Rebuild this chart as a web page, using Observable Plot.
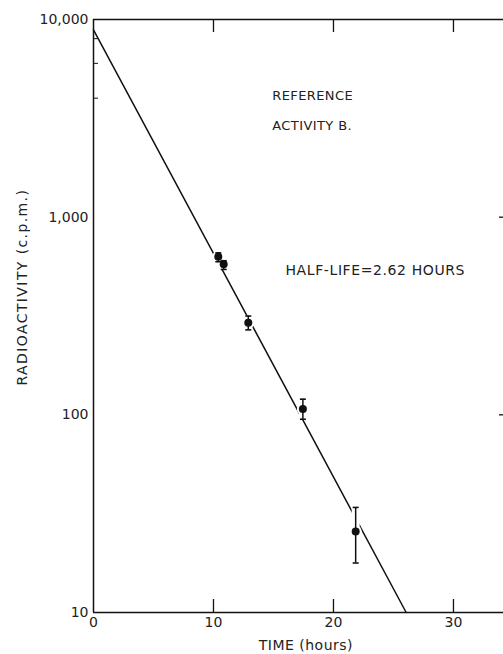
<!DOCTYPE html>
<html><head><meta charset="utf-8">
<script src="https://cdn.jsdelivr.net/npm/d3@7"></script>
<script src="https://cdn.jsdelivr.net/npm/@observablehq/plot@0.6"></script>
<style>body{margin:0;background:#fff}</style>
</head><body><div id="chart"></div>
<script>
// measured points (time in hours, activity in c.p.m.)
const timeHours = [10.4, 10.85, 12.9, 17.45, 21.85];
const activity = [630, 577, 292, 107, 25.7];
const errLow = [595, 544, 269, 95, 17.8];
const errHigh = [660, 602, 316, 120, 34];
// fitted decay line endpoints
const fitTime = [0, 26.06];
const fitActivity = [8870, 10];
// ticks
const xTicks = [0, 10, 20, 30];
const xInnerTicks = [10, 20, 30];
const yTicks = [10, 100, 1000, 10000];
const yTickLabels = ["10", "100", "1,000", "10,000"];
const yMinorTicks = [4000, 6000, 8000];
const yRightTicks = [100, 1000];

const X_MAX = 34.17, Y_MIN = 10, Y_MAX = 10000;
const pxPerX = 12, pxPerDecade = 198;
const tickUp = Math.pow(10, 13 / pxPerDecade);   // 13px inward on log scale
const tickDown = Math.pow(10, -13 / pxPerDecade);

const pts = timeHours.map((t, i) => ({t, v: activity[i], lo: errLow[i], hi: errHigh[i]}));
const fit = fitTime.map((t, i) => ({t, v: fitActivity[i]}));
const ink = "#111";
const txt = "#222";

const chart = Plot.plot({
  width: 503,
  height: 654,
  marginLeft: 93,
  marginRight: 0,
  marginTop: 19,
  marginBottom: 42,
  style: {fontFamily: "DejaVu Sans", fontSize: "14px", color: txt, background: "#fff"},
  x: {domain: [0, X_MAX]},
  y: {type: "log", domain: [Y_MIN, Y_MAX]},
  marks: [
    // frame: top, left, bottom
    Plot.ruleY([Y_MAX], {stroke: ink, strokeWidth: 1.5}),
    Plot.ruleY([Y_MIN], {stroke: ink, strokeWidth: 1.5}),
    Plot.ruleX([0], {stroke: ink, strokeWidth: 1.5}),
    // inward ticks
    Plot.ruleX(xInnerTicks, {x: d => d, y1: Y_MIN, y2: Y_MIN * tickUp, stroke: ink, strokeWidth: 1.3}),
    Plot.ruleX(xInnerTicks, {x: d => d, y1: Y_MAX, y2: Y_MAX * tickDown, stroke: ink, strokeWidth: 1.3}),
    Plot.ruleY(yMinorTicks, {y: d => d, x1: 0, x2: 5 / pxPerX, stroke: ink, strokeWidth: 1}),
    Plot.ruleY(yRightTicks, {y: d => d, x1: X_MAX - 4 / pxPerX, x2: X_MAX, stroke: ink, strokeWidth: 1.3}),
    // axes labels
    Plot.axisX(xTicks, {tickSize: 0, tickPadding: 5, label: null, fontSize: 14, fill: txt}),
    Plot.axisY(yTicks, {tickSize: 0, tickPadding: 5, label: null, fontSize: 14, fill: txt,
      tickFormat: d => yTickLabels[yTicks.indexOf(d)]}),
    // fit line
    Plot.line(fit, {x: "t", y: "v", stroke: ink, strokeWidth: 1.5}),
    // white halos to break the line around points
    Plot.ruleX(pts, {x: "t", y1: "lo", y2: "hi", stroke: "#fff", strokeWidth: 8}),
    Plot.dot(pts, {x: "t", y: "v", r: 6, fill: "#fff", stroke: "none"}),
    // error bars
    Plot.ruleX(pts, {x: "t", y1: "lo", y2: "hi", stroke: ink, strokeWidth: 1.5}),
    Plot.link(pts, {x1: d => d.t - 3 / pxPerX, x2: d => d.t + 3 / pxPerX, y1: "lo", y2: "lo", stroke: ink, strokeWidth: 1.6}),
    Plot.link(pts, {x1: d => d.t - 3 / pxPerX, x2: d => d.t + 3 / pxPerX, y1: "hi", y2: "hi", stroke: ink, strokeWidth: 1.6}),
    Plot.dot(pts, {x: "t", y: "v", r: 4, fill: ink, stroke: "none"}),
    // annotations
    Plot.text(["REFERENCE"], {x: 14.9, y: 4130, textAnchor: "start", fontSize: 13, fill: txt}),
    Plot.text(["ACTIVITY B."], {x: 14.9, y: 2900, textAnchor: "start", fontSize: 13, fill: txt}),
    Plot.text(["HALF-LIFE=2.62 HOURS"], {x: 16.0, y: 540, textAnchor: "start", fontSize: 14, fill: txt}),
    Plot.text(["RADIOACTIVITY (c.p.m.)"], {x: 0, y: 443, dx: -71, rotate: -90, textAnchor: "middle", fontSize: 14, fill: txt}),
    Plot.text(["TIME (hours)"], {x: 17.7, y: Y_MIN, dy: 33, textAnchor: "middle", fontSize: 14, fill: txt})
  ]
});
// widen lettering to match the reference's lettering
d3.select(chart).selectAll("text").each(function() {
  const s = this.textContent;
  if (s === "HALF-LIFE=2.62 HOURS") this.setAttribute("letter-spacing", "0.6");
  if (s === "RADIOACTIVITY (c.p.m.)") this.setAttribute("letter-spacing", "1.4");
  if (s === "REFERENCE" || s === "ACTIVITY B.") this.setAttribute("letter-spacing", "0.4");
  if (s === "TIME (hours)") this.setAttribute("letter-spacing", "0.5");
});
document.getElementById("chart").appendChild(chart);
</script>
</body></html>
